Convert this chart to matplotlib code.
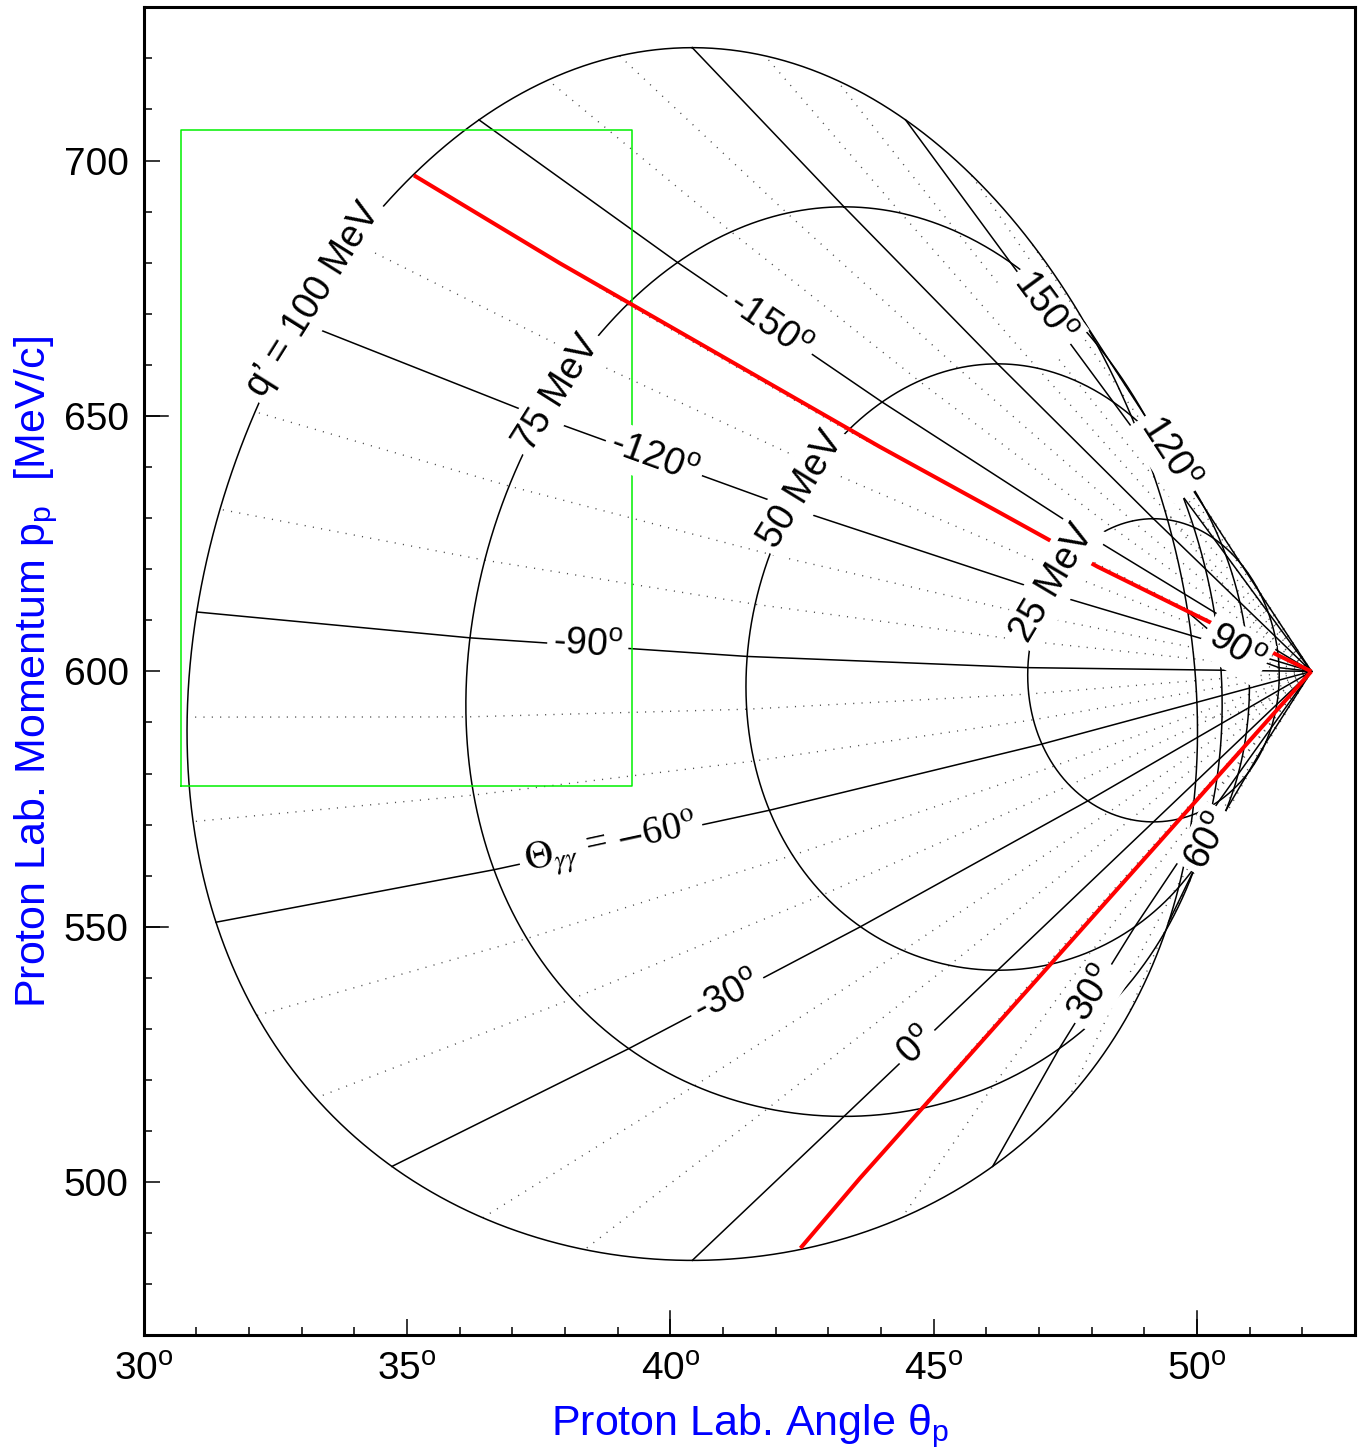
import numpy as np
import matplotlib
matplotlib.use("Agg")
import matplotlib.pyplot as plt
from matplotlib.transforms import blended_transform_factory

plt.rcParams['font.family'] = ['Liberation Sans', 'DejaVu Sans']
plt.rcParams['mathtext.fontset'] = 'custom'
plt.rcParams['mathtext.rm'] = 'Liberation Sans'
plt.rcParams['mathtext.it'] = 'Liberation Sans:italic'
plt.rcParams['mathtext.bf'] = 'Liberation Sans:bold'

# ---------------- data ----------------
beam_energy = 855.0      # MeV  (electron beam)
q_cm = 600.0             # MeV/c (virtual photon CM momentum)
proton_mass = 938.272    # MeV
qprime_curves = [25, 50, 75, 100]            # MeV, closed contours
qprime_nodes = [0, 25, 50, 75, 100]          # MeV, nodes of the Theta_gg lines
theta_gg_solid = [-150, -120, -90, -60, -30, 0, 30, 60, 90, 120, 150, 180]
theta_gg_dotted = [-170, -160, -140, -130, -110, -100, -80, -70, -50, -40, -20, -10,
                   10, 20, 40, 50, 70, 80, 100, 110, 130, 140, 160, 170]

red_upper_theta = [35.13, 37.90, 43.97, 46.25, 48.11, 50.21, 52.17]
red_upper_p = [697.1, 679.9, 644.0, 631.1, 620.5, 609.8, 600.0]
red_lower_theta = [42.47, 43.60, 52.17]
red_lower_p = [487.1, 500.8, 600.0]

accept_theta = [30.70, 39.28]
accept_p = [577.6, 706.0]

x_ticks = [30, 35, 40, 45, 50]
y_ticks = [500, 550, 600, 650, 700]

# label text, curve kind, curve value, approx position (theta, p)
labels = [
    ("q\u2019 = 100 MeV", "q", 100, 33.29, 672.3),
    ("75 MeV", "q", 75, 37.85, 654.5),
    ("50 MeV", "q", 50, 42.47, 635.6),
    ("25 MeV", "q", 25, 47.25, 617.4),
    ("-150$^{\\mathrm{o}}$", "t", -150, 41.86, 668.0),
    ("-120$^{\\mathrm{o}}$", "t", -120, 39.65, 641.4),
    ("-90$^{\\mathrm{o}}$", "t", -90, 38.47, 604.7),
    ("-30$^{\\mathrm{o}}$", "t", -30, 41.09, 537.3),
    ("0$^{\\mathrm{o}}$", "t", 0, 44.58, 527.1),
    ("30$^{\\mathrm{o}}$", "t", 30, 47.96, 537.5),
    ("60$^{\\mathrm{o}}$", "t", 60, 50.17, 567.2),
    ("90$^{\\mathrm{o}}$", "t", 90, 50.75, 604.7),
    ("120$^{\\mathrm{o}}$", "t", 120, 49.57, 643.0),
    ("150$^{\\mathrm{o}}$", "t", 150, 46.82, 668.8),
]
theta60_label = ("$\\Theta_{\\gamma\\gamma}$ = $-$60$^{\\mathrm{o}}$", -60, 38.89, 566.0)


# ---------------- kinematics (coordinate mapping q', Theta_gg -> theta_p, p_p) -------------
def lab_proton(qp, tgg_deg):
    M = proton_mass
    W = qp + np.sqrt(qp ** 2 + M ** 2)
    q0 = W - np.sqrt(M ** 2 + q_cm ** 2)
    Q2 = q_cm ** 2 - q0 ** 2
    qlab = q_cm * W / M
    nu = (W ** 2 + Q2 - M ** 2) / (2 * M)
    Ep = beam_energy - nu
    th_e = 2 * np.arcsin(np.sqrt(Q2 / (4 * beam_energy * Ep)))
    th_q = np.degrees(np.arccos((beam_energy - Ep * np.cos(th_e)) / qlab))
    beta = qlab / (nu + M)
    gamma = (nu + M) / W
    Es = np.sqrt(M ** 2 + qp ** 2)
    psi = np.radians(np.asarray(tgg_deg, float) + 180.0)
    ppar = gamma * (qp * np.cos(psi) + beta * Es)
    pperp = qp * np.sin(psi)
    return th_q - np.degrees(np.arctan2(pperp, ppar)), np.hypot(ppar, pperp)


fig = plt.figure(figsize=(13.61, 14.50), dpi=100)
ax = fig.add_axes([0.10566, 0.07897, 0.88994, 0.91600])
ax.set_xlim(30, 53)
ax.set_ylim(470, 730)

curves = {}
tgg_fine = np.linspace(-180, 180, 1441)
for qv in qprime_curves:
    th, p = lab_proton(qv, tgg_fine)
    curves[("q", qv)] = (th, p)
    ax.plot(th, p, color='black', lw=1.1, zorder=2)


def theta_line(tv):
    pts = [lab_proton(qv, tv) for qv in qprime_nodes]
    th = np.array([float(a) for a, b in pts])
    p = np.array([float(b) for a, b in pts])
    return th, p


for tv in theta_gg_dotted:
    th, p = theta_line(tv)
    ax.plot(th, p, color='0.3', lw=1.0, linestyle=(0, (0.8, 5.2)), zorder=1)
for tv in theta_gg_solid:
    th, p = theta_line(tv)
    curves[("t", tv)] = (th, p)
    ax.plot(th, p, color='black', lw=1.1, zorder=2)

ax.plot(red_upper_theta, red_upper_p, color='red', lw=2.9, zorder=3, solid_capstyle='butt')
ax.plot(red_lower_theta, red_lower_p, color='red', lw=2.9, zorder=3, solid_capstyle='butt')

ax.plot([accept_theta[0], accept_theta[1], accept_theta[1], accept_theta[0], accept_theta[0]],
        [accept_p[0], accept_p[0], accept_p[1], accept_p[1], accept_p[0]],
        color='#00f000', lw=1.1, zorder=2)

fig.canvas.draw()
trans = ax.transData


def place(kind, val, tx, py):
    th, p = curves[(kind, val)]
    disp = trans.transform(np.column_stack([th, p]))
    dense = []
    for i in range(len(disp) - 1):
        seg = np.linspace(disp[i], disp[i + 1], 40, endpoint=False)
        dense.append(seg)
    dense.append(disp[-1:])
    dense = np.vstack(dense)
    target = trans.transform([[tx, py]])[0]
    d = np.hypot(dense[:, 0] - target[0], dense[:, 1] - target[1])
    i = int(np.argmin(d))
    i0 = max(i - 3, 0)
    i1 = min(i + 3, len(dense) - 1)
    dx, dy = dense[i1] - dense[i0]
    ang = np.degrees(np.arctan2(dy, dx))
    if ang > 90:
        ang -= 180
    if ang <= -90:
        ang += 180
    pos = trans.inverted().transform(dense[i])
    return pos, ang


box = dict(boxstyle='square,pad=0.15', fc='white', ec='none')
for text, kind, val, tx, py in labels:
    pos, ang = place(kind, val, tx, py)
    ax.text(pos[0], pos[1], text, rotation=ang, rotation_mode='anchor',
            ha='center', va='center', fontsize=27, bbox=box, zorder=5)

text, val, tx, py = theta60_label
pos, ang = place("t", val, tx, py)
ax.text(pos[0], pos[1], text, rotation=ang, rotation_mode='anchor',
        ha='center', va='center', fontsize=28, bbox=box, zorder=5,
        math_fontfamily='stix', family='Liberation Serif')

# ---------------- axes styling ----------------
ax.set_xticks(x_ticks)
ax.set_xticklabels([f"{v}$^{{\\mathrm{{o}}}}$" for v in x_ticks])
ax.set_xticks(np.arange(31, 53, 1), minor=True)
ax.set_yticks(y_ticks)
ax.set_yticklabels([str(v) for v in y_ticks])
ax.set_yticks(np.arange(480, 730, 10), minor=True)
ax.tick_params(which='major', direction='in', length=11.2, width=1.1, labelsize=28,
               top=False, right=False)
ax.tick_params(which='minor', direction='in', length=5.8, width=1.1, top=False, right=False)
ax.tick_params(axis='x', which='major', pad=12)
ax.tick_params(axis='y', which='major', pad=11)
for s in ax.spines.values():
    s.set_linewidth(2.2)

bx = blended_transform_factory(ax.transData, ax.transAxes)
for v in [40, 50]:
    ax.plot([v, v], [0, 24 / 1328], transform=bx, color='black', lw=1.1, clip_on=False, zorder=6)
by = blended_transform_factory(ax.transAxes, ax.transData)
for v in [550, 650]:
    ax.plot([0, 24 / 1211], [v, v], transform=by, color='black', lw=1.1, clip_on=False, zorder=6)

fig.text(750 / 1361, 1 - 1435 / 1450, "Proton Lab. Angle \u03b8$_{\\mathrm{p}}$",
         color='blue', fontsize=31, ha='center', va='baseline')
fig.text(45 / 1361, 1 - 672 / 1450, "Proton Lab. Momentum p$_{\\mathrm{p}}$  [MeV/c]",
         color='blue', fontsize=31, ha='center', va='baseline', rotation=90,
         rotation_mode='anchor')

fig.savefig("out.png", dpi=100)
